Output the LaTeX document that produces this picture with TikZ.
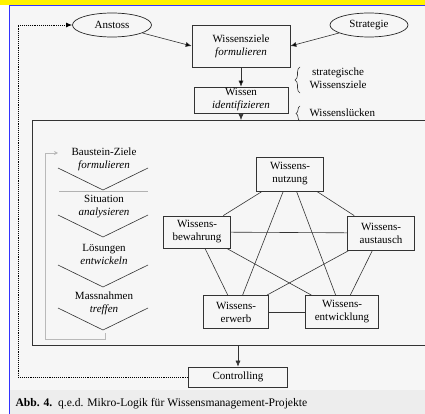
\documentclass[tikz,border=0pt]{standalone}
\usepackage{fontspec}
\setmainfont{Liberation Serif}
\usetikzlibrary{shapes.geometric,decorations.pathreplacing,arrows.meta}

\begin{document}
\begin{tikzpicture}[x=1pt,y=-1pt,>={Latex[length=6pt,width=5pt]},
    every node/.style={font=\fontsize{11}{13}\selectfont,align=center},
    kasten/.style={shape=rectangle,draw=black!80,line width=0.7pt,inner sep=0pt},
    oval/.style={shape=ellipse,draw=black!85,line width=0.7pt,inner sep=0pt},
    linie/.style={draw=black!80,line width=0.6pt}]

	% Rahmen und Hintergrund
	\useasboundingbox (0,0) rectangle (425,414);
	\clip (0,0) rectangle (425,414);
	\fill[gray!7] (0,0) rectangle (425,414);
	\fill[gray!14] (10,390) rectangle (425,414);
	\fill[white] (0,5) rectangle (9,414);
	\fill[yellow] (0,0) rectangle (425,5);
	\draw[blue!80,line width=1.4pt] (9.7,414) -- (9.7,5.8) -- (425,5.8);

	% oberer Teil
	\node[oval,minimum width=79,minimum height=24] (anstoss) at (112,25) {Anstoss};
	\node[oval,minimum width=78,minimum height=24] (strategie) at (369,25) {Strategie};
	\node[kasten,minimum width=98,minimum height=42] (ziele) at (241,46) {Wissensziele\\\textit{formulieren}};
	\node[kasten,minimum width=94,minimum height=26] (ident) at (241,100) {Wissen\\\textit{identifizieren}};
	\node[kasten,line width=0.9pt,minimum width=410,minimum height=225,anchor=north west] (kern) at (32,120) {};
	\node[kasten,minimum width=99,minimum height=20] (ctrl) at (238,377) {Controlling};

	\path[->,linie] (anstoss) edge (ziele.west);
	\path[->,linie] (strategie) edge (ziele.east);
	\path[->,linie] (ziele) edge (ident);
	\draw[->,linie] (ident) -- (ident |- kern.north);
	\draw[->,linie] (ctrl |- kern.south) -- (ctrl);

	% Rueckkopplung
	\coordinate (rueck) at (18,25);
	\draw[->,densely dotted,line width=0.9pt] (ctrl.west) -| (rueck) -- (anstoss.west);

	% Klammern
	\draw[linie,decorate,decoration={brace,amplitude=5pt}] (300,93) -- (300,67);
	\node[anchor=west] (ziel) at (306,78) {strategische\\Wissensziele};
	\draw[linie,decorate,decoration={brace,amplitude=4pt}] (300,121) -- (300,106);
	\node[anchor=west] (luecke) at (306,113) {Wissensl\"ucken};

	% Bausteine links
	\node (baustein) at (104,159) {Baustein-Ziele\\\textit{formulieren}};
	\node (situation) at (104,207) {Situation\\\textit{analysieren}};
	\node (loesung) at (104,254) {L\"osungen\\\textit{entwickeln}};
	\node (massnahme) at (104,303) {Massnahmen\\\textit{treffen}};
	\foreach \y in {168,215,265,308}
		\draw[linie] (58,\y) -- (103,\y+22) -- (148,\y);
	\draw[gray!60,line width=0.6pt] (59,191) -- (148,191);
	\draw[-{Stealth[length=4pt,width=4pt]},gray!55,line width=0.8pt] (105,333) -- (105,339) -- (45,339) -- (45,153) -- (58,153);

	% Wissensbausteine
	\node[kasten,minimum width=67,minimum height=34] (nutzung) at (290,174) {Wissens-\\nutzung};
	\node[kasten,minimum width=67,minimum height=32] (bewahrung) at (197,232) {Wissens-\\bewahrung};
	\node[kasten,minimum width=67,minimum height=34] (austausch) at (381,233) {Wissens-\\austausch};
	\node[kasten,minimum width=65,minimum height=33] (erwerb) at (236,312) {Wissens-\\erwerb};
	\node[kasten,minimum width=73,minimum height=33] (entwicklung) at (342,312) {Wissens-\\entwicklung};

	\foreach \a/\b in {nutzung/bewahrung,nutzung/austausch,nutzung/erwerb,nutzung/entwicklung,
		bewahrung/austausch,bewahrung/erwerb,bewahrung/entwicklung,
		austausch/erwerb,austausch/entwicklung,erwerb/entwicklung}
		\path[-,linie] (\a) edge (\b);

	% Bildunterschrift
	\node[anchor=west,font=\fontsize{11.6}{13}\selectfont] (titel) at (12,404) {\textbf{Abb. 4.}\ \ q.e.d. Mikro-Logik f\"ur Wissensmanagement-Projekte};
\end{tikzpicture}
\end{document}
